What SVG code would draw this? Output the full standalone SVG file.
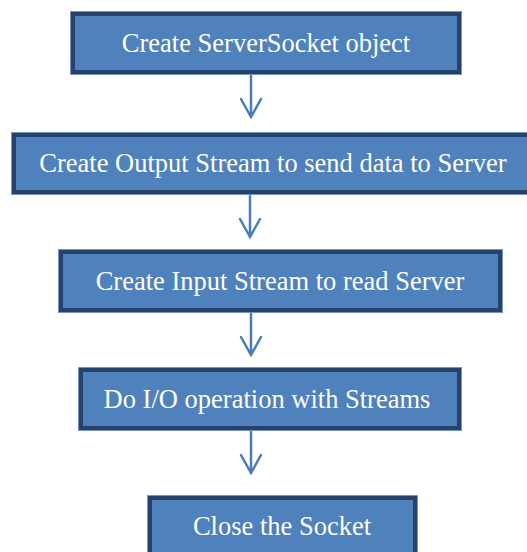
<svg xmlns="http://www.w3.org/2000/svg" width="527" height="552" viewBox="0 0 527 552">
<style>
.box{fill:#4f81bd;stroke:#7393c0;stroke-width:1}
.bd{fill:none;stroke:#26426a;stroke-width:4}
.t{font-family:"Liberation Serif","Times New Roman",serif;font-size:26.5px;fill:#ffffff;text-anchor:middle}
.c{fill:none;stroke:#4a7ebb;stroke-width:2.5;stroke-linecap:round;stroke-linejoin:miter}
</style>
<rect width="527" height="552" fill="#ffffff"/>
<g id="node1">
<rect class="box" x="70.5" y="11.5" width="391" height="63"/>
<rect class="bd" x="73" y="14" width="386" height="58"/>
<text class="t" x="266" y="52">Create ServerSocket object</text>
</g>
<g id="node2">
<rect class="box" x="11.5" y="132.5" width="530" height="62"/>
<rect class="bd" x="14" y="135" width="525" height="57"/>
<text class="t" x="273" y="172">Create Output Stream to send data to Server</text>
</g>
<g id="node3">
<rect class="box" x="58.5" y="249.5" width="444" height="63"/>
<rect class="bd" x="61" y="252" width="439" height="58"/>
<text class="t" x="280" y="290">Create Input Stream to read Server</text>
</g>
<g id="node4">
<rect class="box" x="78.5" y="367.5" width="383" height="63"/>
<rect class="bd" x="81" y="370" width="378" height="58"/>
<text class="t" x="267" y="408">Do I/O operation with Streams</text>
</g>
<g id="node5">
<rect class="box" x="147.5" y="495.5" width="270" height="70"/>
<rect class="bd" x="150" y="498" width="265" height="65"/>
<text class="t" x="282" y="535">Close the Socket</text>
</g>
<g id="connectors">
<path class="c" d="M251 76V117M241 99L251 117L261 99"/>
<path class="c" d="M250 196V237M240 219L250 237L260 219"/>
<path class="c" d="M251 314V355M241 337L251 355L261 337"/>
<path class="c" d="M251 432V473M241 455L251 473L261 455"/>
</g>
</svg>
